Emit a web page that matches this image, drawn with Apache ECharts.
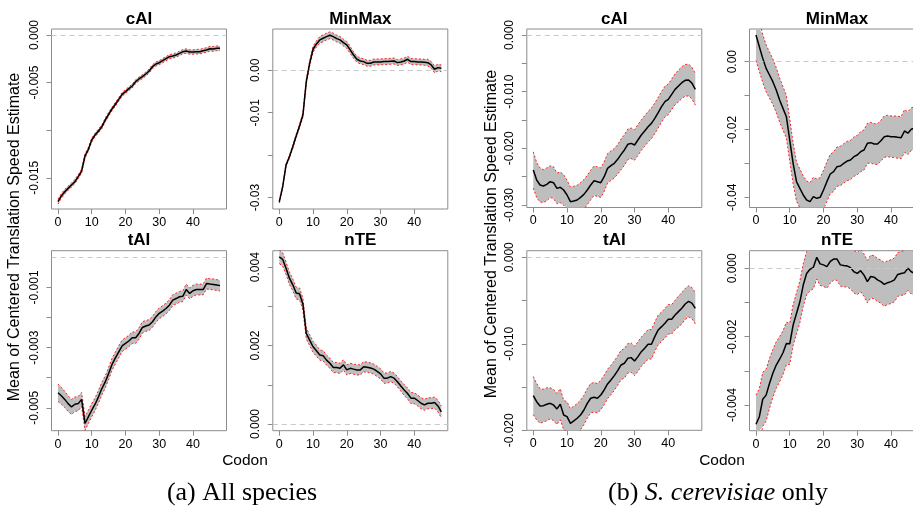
<!DOCTYPE html>
<html><head><meta charset="utf-8">
<script src="https://cdn.jsdelivr.net/npm/echarts@6/dist/echarts.min.js"></script>
<style>html,body{margin:0;padding:0;background:#fff}#c{width:913px;height:509px}</style>
</head><body><div id="c"></div>
<script>
// ---------------- DATA ----------------
const codons = [0,1,2,3,4,5,6,7,8,9,10,11,12,13,14,15,16,17,18,19,20,21,22,23,24,25,26,27,28,29,30,31,32,33,34,35,36,37,38,39,40,41,42,43,44,45,46,47,48];
const xTicks = [0,10,20,30,40];
const panelTitles = ['cAI','MinMax','tAI','nTE'];

// (a) All species
const caiAllMean = [-0.01751,-0.01691,-0.01646,-0.01611,-0.01576,-0.01541,-0.01488,-0.01429,-0.01271,-0.01201,-0.01103,-0.01050,-0.01008,-0.00963,-0.00893,-0.00833,-0.00777,-0.00728,-0.00676,-0.00623,-0.00595,-0.00564,-0.00536,-0.00490,-0.00462,-0.00438,-0.00410,-0.00378,-0.00333,-0.00305,-0.00291,-0.00270,-0.00249,-0.00228,-0.00221,-0.00210,-0.00193,-0.00175,-0.00168,-0.00179,-0.00179,-0.00175,-0.00175,-0.00165,-0.00158,-0.00144,-0.00147,-0.00140,-0.00140];
const caiAllHalfCI = [0.00026,0.00025,0.00024,0.00023,0.00022,0.00022,0.00021,0.00021,0.00021,0.00020,0.00020,0.00020,0.00020,0.00020,0.00020,0.00020,0.00020,0.00020,0.00020,0.00020,0.00020,0.00020,0.00020,0.00020,0.00020,0.00021,0.00021,0.00021,0.00021,0.00021,0.00022,0.00022,0.00022,0.00022,0.00022,0.00022,0.00023,0.00023,0.00023,0.00023,0.00023,0.00024,0.00024,0.00024,0.00024,0.00025,0.00025,0.00025,0.00025];
const caiAllTicks = [0,-0.005,-0.010,-0.015];
const caiAllLabels = [0,-0.005,-0.015];

const minmaxAllMean = [-0.03102,-0.02748,-0.02236,-0.02039,-0.01803,-0.01551,-0.01315,-0.01055,-0.00268,0.00165,0.00496,0.00622,0.00717,0.00756,0.00795,0.00827,0.00795,0.00748,0.00717,0.00654,0.00598,0.00480,0.00362,0.00260,0.00220,0.00205,0.00165,0.00165,0.00197,0.00197,0.00197,0.00205,0.00205,0.00213,0.00220,0.00181,0.00197,0.00220,0.00260,0.00205,0.00205,0.00197,0.00197,0.00189,0.00181,0.00126,0.00024,0.00063,0.00047];
const minmaxAllHalfCI = [0.0003,0.0003,0.0003,0.0003,0.0004,0.0004,0.0004,0.0005,0.0005,0.0006,0.0007,0.0007,0.0008,0.0008,0.0008,0.0008,0.0008,0.0008,0.0008,0.0008,0.0008,0.0008,0.0008,0.0007,0.0007,0.0007,0.0007,0.0007,0.0007,0.0007,0.0007,0.0007,0.0007,0.0007,0.0007,0.0007,0.0007,0.0007,0.0007,0.0007,0.0007,0.0007,0.0007,0.0007,0.0008,0.0008,0.0008,0.0008,0.0008];
const minmaxAllTicks = [0,-0.01,-0.02,-0.03];
const minmaxAllLabels = [0,-0.01,-0.03];

const taiAllMean = [-0.00450,-0.00460,-0.00472,-0.00486,-0.00497,-0.00488,-0.00486,-0.00472,-0.00552,-0.00530,-0.00508,-0.00488,-0.00463,-0.00436,-0.00414,-0.00386,-0.00356,-0.00334,-0.00314,-0.00294,-0.00286,-0.00278,-0.00267,-0.00267,-0.00253,-0.00233,-0.00228,-0.00225,-0.00214,-0.00198,-0.00186,-0.00179,-0.00170,-0.00159,-0.00142,-0.00137,-0.00131,-0.00129,-0.00107,-0.00120,-0.00111,-0.00107,-0.00107,-0.00107,-0.00087,-0.00089,-0.00090,-0.00092,-0.00094];
const taiAllHalfCI = [0.00029,0.00028,0.00027,0.00026,0.00025,0.00024,0.00024,0.00023,0.00023,0.00022,0.00022,0.00021,0.00021,0.00021,0.00020,0.00020,0.00020,0.00020,0.00020,0.00019,0.00019,0.00019,0.00019,0.00019,0.00019,0.00019,0.00018,0.00018,0.00018,0.00018,0.00018,0.00018,0.00018,0.00018,0.00018,0.00018,0.00018,0.00018,0.00018,0.00018,0.00018,0.00018,0.00018,0.00018,0.00018,0.00018,0.00018,0.00018,0.00018];
const taiAllTicks = [-0.001,-0.002,-0.003,-0.004,-0.005];
const taiAllLabels = [-0.001,-0.003,-0.005];

const nteAllMean = [0.00426,0.00420,0.00397,0.00372,0.00355,0.00334,0.00332,0.00306,0.00231,0.00214,0.00197,0.00187,0.00176,0.00174,0.00163,0.00155,0.00144,0.00144,0.00142,0.00151,0.00138,0.00142,0.00140,0.00138,0.00138,0.00146,0.00145,0.00143,0.00140,0.00134,0.00128,0.00117,0.00117,0.00121,0.00117,0.00108,0.00097,0.00087,0.00078,0.00066,0.00066,0.00060,0.00053,0.00049,0.00053,0.00053,0.00055,0.00046,0.00031];
const nteAllHalfCI = [0.00017,0.00017,0.00016,0.00016,0.00015,0.00015,0.00015,0.00015,0.00014,0.00014,0.00014,0.00014,0.00013,0.00013,0.00013,0.00013,0.00013,0.00013,0.00013,0.00013,0.00013,0.00013,0.00013,0.00013,0.00013,0.00013,0.00013,0.00013,0.00013,0.00013,0.00013,0.00013,0.00013,0.00013,0.00013,0.00013,0.00013,0.00014,0.00014,0.00014,0.00014,0.00014,0.00014,0.00014,0.00014,0.00014,0.00014,0.00015,0.00015];
const nteAllTicks = [0,0.001,0.002,0.003,0.004];
const nteAllLabels = [0,0.002,0.004];

// (b) S. cerevisiae only
const caiScMean = [-0.02382,-0.02559,-0.02647,-0.02665,-0.02635,-0.02588,-0.02606,-0.02706,-0.02688,-0.02735,-0.02824,-0.02941,-0.02929,-0.02912,-0.02865,-0.02812,-0.02735,-0.02647,-0.02571,-0.02588,-0.02606,-0.02500,-0.02353,-0.02306,-0.02265,-0.02194,-0.02106,-0.02029,-0.01929,-0.01912,-0.01941,-0.01853,-0.01765,-0.01694,-0.01618,-0.01559,-0.01471,-0.01371,-0.01265,-0.01176,-0.01135,-0.01047,-0.00959,-0.00900,-0.00841,-0.00800,-0.00795,-0.00850,-0.00959];
const caiScHalfCI = [0.0032,0.0031,0.0030,0.0029,0.0029,0.0028,0.0028,0.0027,0.0027,0.0027,0.0026,0.0026,0.0026,0.0026,0.0026,0.0026,0.0026,0.0026,0.0026,0.0026,0.0026,0.0026,0.0026,0.0026,0.0026,0.0026,0.0027,0.0027,0.0027,0.0027,0.0027,0.0027,0.0027,0.0027,0.0027,0.0027,0.0027,0.0027,0.0027,0.0027,0.0027,0.0027,0.0027,0.0028,0.0028,0.0028,0.0028,0.0028,0.0028];
const caiScTicks = [0,-0.005,-0.010,-0.015,-0.020,-0.025,-0.030];
const caiScLabels = [0,-0.010,-0.020,-0.030];

const minmaxScMean = [0.00786,0.00442,0.00098,-0.00197,-0.00393,-0.00590,-0.00835,-0.01130,-0.01376,-0.01622,-0.02310,-0.02998,-0.03538,-0.03735,-0.03931,-0.04079,-0.04128,-0.03980,-0.04029,-0.04000,-0.03784,-0.03538,-0.03312,-0.03243,-0.03096,-0.03076,-0.02998,-0.02929,-0.02899,-0.02801,-0.02752,-0.02654,-0.02604,-0.02408,-0.02388,-0.02428,-0.02428,-0.02329,-0.02211,-0.02192,-0.02211,-0.02211,-0.02231,-0.02241,-0.02044,-0.02110,-0.01990,-0.01960,-0.01950];
const minmaxScHalfCI = [0.0075,0.0073,0.0071,0.0069,0.0068,0.0067,0.0066,0.0065,0.0064,0.0063,0.0062,0.0060,0.0058,0.0057,0.0056,0.0056,0.0056,0.0057,0.0057,0.0058,0.0058,0.0058,0.0058,0.0058,0.0058,0.0058,0.0058,0.0058,0.0058,0.0058,0.0058,0.0059,0.0059,0.0059,0.0060,0.0060,0.0060,0.0060,0.0061,0.0061,0.0061,0.0061,0.0062,0.0062,0.0063,0.0063,0.0063,0.0063,0.0063];
const minmaxScTicks = [0,-0.01,-0.02,-0.03,-0.04];
const minmaxScLabels = [0,-0.02,-0.04];

const taiScMean = [-0.01599,-0.01669,-0.01719,-0.01715,-0.01699,-0.01688,-0.01707,-0.01753,-0.01699,-0.01823,-0.01842,-0.01919,-0.01892,-0.01861,-0.01823,-0.01765,-0.01688,-0.01630,-0.01618,-0.01630,-0.01592,-0.01534,-0.01464,-0.01418,-0.01368,-0.01310,-0.01245,-0.01225,-0.01168,-0.01160,-0.01198,-0.01148,-0.01091,-0.01052,-0.01006,-0.01006,-0.00917,-0.00840,-0.00802,-0.00763,-0.00717,-0.00717,-0.00667,-0.00628,-0.00590,-0.00540,-0.00510,-0.00530,-0.00590];
const taiScHalfCI = [0.0022,0.0021,0.0020,0.0019,0.0019,0.0018,0.0018,0.0018,0.0018,0.0017,0.0017,0.0017,0.0017,0.0017,0.0017,0.0017,0.0017,0.0017,0.0017,0.0017,0.0017,0.0017,0.0017,0.0017,0.0017,0.0017,0.0017,0.0017,0.0017,0.0017,0.0017,0.0017,0.0017,0.0017,0.0017,0.0017,0.0017,0.0017,0.0017,0.0017,0.0017,0.0017,0.0017,0.0018,0.0018,0.0018,0.0018,0.0018,0.0018];
const taiScTicks = [0,-0.005,-0.010,-0.015,-0.020];
const taiScLabels = [0,-0.010,-0.020];

const nteScMean = [-0.00456,-0.00434,-0.00383,-0.00371,-0.00337,-0.00307,-0.00283,-0.00266,-0.00247,-0.00220,-0.00221,-0.00166,-0.00132,-0.00098,-0.00049,-0.00015,-0.00003,0.00003,0.00032,0.00013,0.00010,0.00005,0.00020,0.00027,0.00027,0.00010,0.00008,0.00007,0.00002,-0.00010,-0.00015,-0.00007,-0.00020,-0.00039,-0.00024,-0.00026,-0.00034,-0.00039,-0.00047,-0.00042,-0.00039,-0.00034,-0.00018,-0.00015,-0.00013,0.00000,-0.00010,-0.00015,-0.00020];
const nteScHalfCI = [0.00085,0.00082,0.00079,0.00076,0.00073,0.00070,0.00068,0.00066,0.00064,0.00062,0.00060,0.00060,0.00060,0.00061,0.00062,0.00063,0.00063,0.00063,0.00063,0.00063,0.00063,0.00063,0.00063,0.00062,0.00062,0.00062,0.00062,0.00062,0.00062,0.00062,0.00062,0.00062,0.00062,0.00062,0.00063,0.00063,0.00063,0.00063,0.00064,0.00064,0.00064,0.00064,0.00064,0.00064,0.00065,0.00065,0.00065,0.00065,0.00065];
const nteScTicks = [0,-0.001,-0.002,-0.003,-0.004];
const nteScLabels = [0,-0.002,-0.004];

const yAxisTitle = 'Mean of Centered Translation Speed Estimate';
const xAxisTitle = 'Codon';

// ---------------- LAYOUT ----------------
const SANS = '"Liberation Sans", Arial, Helvetica, sans-serif';
const SERIF = '"Liberation Serif", "Times New Roman", serif';
const panels = [
  {title:panelTitles[0], mean:caiAllMean, hw:caiAllHalfCI, ticks:caiAllTicks, labels:caiAllLabels, dec:3, yMin:-0.01828, yMax:0.00063, left:51.5, top:29, w:175, h:180},
  {title:panelTitles[1], mean:minmaxAllMean, hw:minmaxAllHalfCI, ticks:minmaxAllTicks, labels:minmaxAllLabels, dec:2, yMin:-0.0327, yMax:0.00974, left:272.8, top:29, w:175, h:180},
  {title:panelTitles[2], mean:taiAllMean, hw:taiAllHalfCI, ticks:taiAllTicks, labels:taiAllLabels, dec:3, yMin:-0.00576, yMax:0.00022, left:51.5, top:250.7, w:175, h:180},
  {title:panelTitles[3], mean:nteAllMean, hw:nteAllHalfCI, ticks:nteAllTicks, labels:nteAllLabels, dec:3, yMin:-0.00017, yMax:0.00442, left:272.8, top:250.7, w:175, h:180},
  {title:panelTitles[0], mean:caiScMean, hw:caiScHalfCI, ticks:caiScTicks, labels:caiScLabels, dec:3, yMin:-0.03044, yMax:0.00106, left:526.8, top:29, w:175, h:178.5},
  {title:panelTitles[1], mean:minmaxScMean, hw:minmaxScHalfCI, ticks:minmaxScTicks, labels:minmaxScLabels, dec:2, yMin:-0.0430, yMax:0.00964, left:749.5, top:29, w:175, h:178.5},
  {title:panelTitles[2], mean:taiScMean, hw:taiScHalfCI, ticks:taiScTicks, labels:taiScLabels, dec:3, yMin:-0.0200, yMax:0.00076, left:526.8, top:250.7, w:175, h:179.6},
  {title:panelTitles[3], mean:nteScMean, hw:nteScHalfCI, ticks:nteScTicks, labels:nteScLabels, dec:3, yMin:-0.00475, yMax:0.000515, left:749.5, top:250.7, w:175, h:180}
];

const BOX = '#8c8c8c';
const option = {animation:false, backgroundColor:'#ffffff', grid:[], xAxis:[], yAxis:[], series:[], graphic:[]};

function txt(x, y, text, extra, rot){
  const st = Object.assign({text:text, fill:'#000', align:'center', verticalAlign:'middle', textAlign:'center', textVerticalAlign:'middle'}, extra);
  return {type:'text', x:x, y:y, rotation:rot||0, silent:true, style:st};
}

panels.forEach((p, i) => {
  const lo = p.mean.map((m, k) => [codons[k], m - p.hw[k]]);
  const hi = p.mean.map((m, k) => [codons[k], m + p.hw[k]]);
  const mid = p.mean.map((m, k) => [codons[k], m]);

  option.grid.push({left:p.left, top:p.top, width:p.w, height:p.h, show:true, borderColor:BOX, borderWidth:1,
    backgroundColor:'transparent', containLabel:false, outerBoundsMode:'none'});
  option.xAxis.push({type:'value', gridIndex:i, min:-1.92, max:49.92,
    axisLine:{show:false, onZero:false}, splitLine:{show:false},
    axisTick:{show:true, length:5, lineStyle:{color:BOX}, customValues:xTicks},
    axisLabel:{customValues:xTicks, fontSize:12.5, fontFamily:SANS, color:'#000', margin:7}});
  option.yAxis.push({type:'value', gridIndex:i, min:p.yMin, max:p.yMax,
    axisLine:{show:false, onZero:false}, splitLine:{show:false},
    axisTick:{show:true, length:5, lineStyle:{color:BOX}, customValues:p.ticks},
    axisLabel:{customValues:p.labels, rotate:90, fontSize:12, fontFamily:SANS, color:'#000', margin:11,
      formatter:(v) => Number(v).toFixed(p.dec)}});

  // confidence band
  option.series.push({type:'custom', coordinateSystem:'cartesian2d', xAxisIndex:i, yAxisIndex:i, silent:true, z:1,
    data:[[0,0]],
    renderItem:(params, api) => {
      const cs = params.coordSys;
      const rect = {x:cs.x, y:cs.y, width:cs.width, height:cs.height};
      const pts = [];
      for (let k = 0; k < hi.length; k++) pts.push(api.coord(hi[k]));
      for (let k = lo.length - 1; k >= 0; k--) pts.push(api.coord(lo[k]));
      const clipped = pts.map(pt => [Math.min(Math.max(pt[0], rect.x), rect.x + rect.width), Math.min(Math.max(pt[1], rect.y), rect.y + rect.height)]);
      return {type:'polygon', shape:{points:clipped}, style:{fill:'#bebebe', stroke:null}};
    }});
  // red dashed CI edges
  option.series.push({type:'line', xAxisIndex:i, yAxisIndex:i, data:lo, symbol:'none', silent:true, z:3, clip:true,
    lineStyle:{color:'#ff2020', width:1, type:[2,2]},
    markLine:{silent:true, symbol:['none','none'], label:{show:false}, animation:false,
      lineStyle:{color:'#c8c8c8', width:1, type:[5,4]}, data:[{yAxis:0}]}});
  option.series.push({type:'line', xAxisIndex:i, yAxisIndex:i, data:hi, symbol:'none', silent:true, z:3, clip:true,
    lineStyle:{color:'#ff2020', width:1, type:[2,2]}});
  // mean line
  option.series.push({type:'line', xAxisIndex:i, yAxisIndex:i, data:mid, symbol:'none', silent:true, z:4, clip:true,
    lineStyle:{color:'#000', width:1.5}});

  // panel title
  option.graphic.push(txt(p.left + p.w/2, p.top - 10, p.title, {fontSize:17, fontWeight:'bold', fontFamily:SANS}));
});

// axis titles and captions
option.graphic.push(txt(15, 237, yAxisTitle, {fontSize:16, fontFamily:SANS}, Math.PI/2));
option.graphic.push(txt(492, 234, yAxisTitle, {fontSize:16, fontFamily:SANS}, Math.PI/2));
option.graphic.push(txt(245, 461, xAxisTitle, {fontSize:15.5, fontFamily:SANS}));
option.graphic.push(txt(722, 461, xAxisTitle, {fontSize:15.5, fontFamily:SANS}));
option.graphic.push(txt(242, 493, '(a) All species', {fontSize:26, fontFamily:SERIF}));
option.graphic.push(txt(718, 493, '(b) {i|S. cerevisiae} only', {fontSize:26, fontFamily:SERIF,
  rich:{i:{fontSize:26, fontFamily:SERIF, fontStyle:'italic', fill:'#000'}}}));

const chart = echarts.init(document.getElementById('c'), null, {renderer:'canvas'});
chart.setOption(option);
</script>
</body></html>
